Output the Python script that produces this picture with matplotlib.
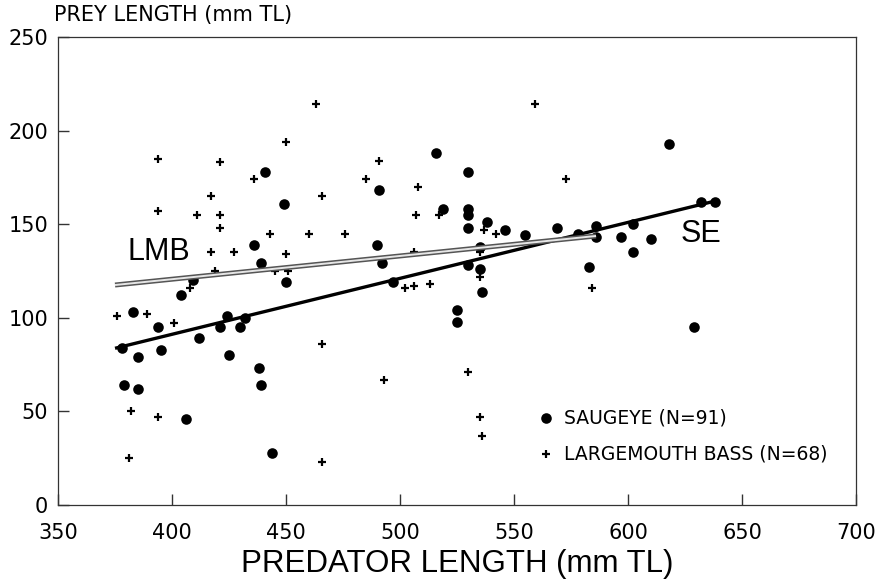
import matplotlib
matplotlib.use("Agg")
import matplotlib.pyplot as plt
import numpy as np

plt.rcParams["font.family"] = ["Liberation Sans", "DejaVu Sans"]

###### saugeye (SE) points : predator length, prey length ######
se_x = [441, 436, 439, 409, 404, 383, 394, 424, 432, 421, 430, 378, 412, 385, 395,
        425, 438, 439, 379, 385, 406, 444,
        449, 516, 530, 491, 519, 530, 530, 530, 538, 490, 535, 492, 530, 535, 450,
        497, 536, 525, 525,
        546, 555, 569, 578, 586, 586, 597, 602, 602, 610, 583, 618, 632, 638, 629]
se_y = [178, 139, 129, 120, 112, 103, 95, 101, 100, 95, 95, 84, 89, 79, 83,
        80, 73, 64, 64, 62, 46, 28,
        161, 188, 178, 168, 158, 158, 155, 148, 151, 139, 138, 129, 128, 126, 119,
        119, 114, 104, 98,
        147, 144, 148, 145, 149, 143, 143, 150, 135, 142, 127, 193, 162, 162, 95]

###### largemouth bass (LMB) points ######
lmb_x = [394, 421, 436, 417, 394, 411, 421, 421, 443, 417, 427, 419, 445, 408, 376,
         389, 401, 382, 394, 381,
         463, 450, 491, 485, 508, 466, 507, 517, 460, 476, 537, 450, 506, 535, 451,
         535, 502, 506, 513, 466, 493, 530, 535, 536, 466,
         559, 573, 542, 584]
lmb_y = [185, 183, 174, 165, 157, 155, 155, 148, 145, 135, 135, 125, 125, 116, 101,
         102, 97, 50, 47, 25,
         214, 194, 184, 174, 170, 165, 155, 155, 145, 145, 147, 134, 135, 135, 125,
         122, 116, 117, 118, 86, 67, 71, 47, 37, 23,
         214, 174, 145, 116]

###### fitted regression lines (end points) ######
se_fit_x = [375, 637]
se_fit_y = [83.7, 162.0]
lmb_fit_x = [375, 586]
lmb_fit_y = [117.5, 143.7]

fig = plt.figure(figsize=(8.86, 5.85), dpi=100)
ax = fig.add_axes([0.0655, 0.1368, 0.9006, 0.8000])

ax.scatter(se_x, se_y, s=58, marker="o", color="k", linewidths=0, zorder=3)
ax.scatter(lmb_x, lmb_y, s=34, marker="+", color="k", linewidths=1.6, zorder=3)

# regression lines
ax.plot(se_fit_x, se_fit_y, color="k", lw=2.4, solid_capstyle="butt", zorder=4)
ax.plot(lmb_fit_x, lmb_fit_y, color="#555555", lw=3.6, solid_capstyle="butt", zorder=4)
ax.plot(lmb_fit_x, lmb_fit_y, color="#e6e6e6", lw=1.4, solid_capstyle="butt", zorder=5)

ax.text(394, 135, "LMB", fontsize=22, ha="center", va="center")
ax.text(632, 145, "SE", fontsize=22, ha="center", va="center")

# legend drawn by hand
lab_font = {"family": ["DejaVu Sans"], "size": 13.5}
ax.scatter([564], [46.5], s=58, marker="o", color="k", linewidths=0)
ax.scatter([564], [27], s=34, marker="+", color="k", linewidths=1.6)
ax.text(572, 46.5, "SAUGEYE (N=91)", fontdict=lab_font, va="center", ha="left")
ax.text(572, 27, "LARGEMOUTH BASS (N=68)", fontdict=lab_font, va="center", ha="left")

ax.set_xlim(350, 700)
ax.set_ylim(0, 250)
ax.set_xticks(np.arange(350, 701, 50))
ax.set_yticks(np.arange(0, 251, 50))
ax.tick_params(direction="in", length=8, width=1, labelsize=15, color="#333333")
ax.tick_params(axis="x", pad=13)
ax.tick_params(axis="y", pad=7)
for lbl in ax.get_xticklabels() + ax.get_yticklabels():
    lbl.set_family("DejaVu Sans")
for s in ax.spines.values():
    s.set_linewidth(0.9)
    s.set_color("#333333")

ax.set_xlabel("PREDATOR LENGTH (mm TL)", fontsize=22.5, labelpad=4)
fig.text(54 / 886, 1 - 21 / 585, "PREY LENGTH (mm TL)", family=["DejaVu Sans"],
         fontsize=15, ha="left", va="baseline")

fig.savefig("out.png", dpi=100)
